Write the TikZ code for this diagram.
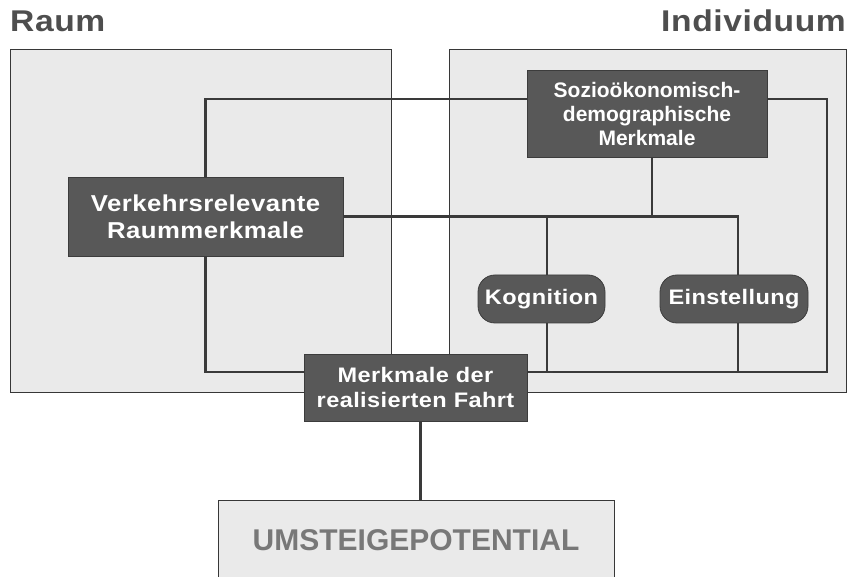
\documentclass[tikz,border=0pt]{standalone}
\usepackage{fontspec}
\setsansfont{Liberation Sans}
\newfontfamily\widesans{Liberation Sans}[FakeStretch=1.12,LetterSpace=2]
\usetikzlibrary{positioning}

\begin{document}
\begin{tikzpicture}[x=1pt,y=-1pt,
	panel/.style={draw=frame,line width=0.8pt,fill=panelgray},
	title/.style={text=titlegray,inner sep=0pt,font=\widesans\bfseries\fontsize{30}{33}\selectfont},
	dark box/.style={rectangle,draw=boxedge,line width=0.8pt,fill=boxgray,text=white,
		inner sep=0pt,align=center,font=\widesans\bfseries\fontsize{21}{25}\selectfont},
	soft box/.style={dark box,rounded corners=17pt},
	result box/.style={rectangle,draw=frame,line width=0.8pt,fill=panelgray,text=resultgray,
		inner sep=0pt,font=\sffamily\bfseries\fontsize{30}{34}\selectfont},
	link/.style={draw=linegray,line width=2.8pt}]
	
	\definecolor{frame}{RGB}{55,55,55}
	\definecolor{panelgray}{RGB}{234,234,234}
	\definecolor{boxgray}{RGB}{88,88,88}
	\definecolor{boxedge}{RGB}{60,60,60}
	\definecolor{linegray}{RGB}{58,58,58}
	\definecolor{titlegray}{RGB}{78,78,78}
	\definecolor{resultgray}{RGB}{120,120,120}
	
	\useasboundingbox (0,0) rectangle (852,577);
	\clip (0,0) rectangle (852,577);
	
	% the two areas
	\node[title,anchor=base west] (raum) at (10,32) {Raum};
	\node[title,anchor=base east] (indiv) at (846,32) {Individuum};
	\draw[panel] (10,49) rectangle (391,392);
	\draw[panel] (449,49) rectangle (846,392);
	
	\node[dark box,minimum width=275pt,minimum height=79pt,
		font=\widesans\bfseries\fontsize{23}{27}\selectfont] (verkehr) at (205.5,216.5)
		{Verkehrsrelevante\\Raummerkmale};
	\node[dark box,minimum width=240pt,minimum height=87pt,
		font=\sffamily\bfseries\fontsize{21}{24}\selectfont] (sozio) at (647,113.5)
		{Sozioökonomisch-\\demographische\\Merkmale};
	\node[soft box,minimum width=127pt,minimum height=48pt] (kogn) at (541.5,299) {Kognition};
	\node[soft box,minimum width=148pt,minimum height=48pt] (einst) at (734,299) {Einstellung};
	\node[dark box,minimum width=223pt,minimum height=67pt] (fahrt) at (415.5,387.5)
		{Merkmale der\\realisierten Fahrt};
	\node[result box,minimum width=396pt,minimum height=80pt] (umst) at (416,540) {UMSTEIGEPOTENTIAL};
	
	\coordinate (rc) at (827,372);
	
	% outer loop
	\draw[link] (verkehr.north) |- ([yshift=14.5pt]sozio.west);
	\draw[link] ([yshift=14.5pt]sozio.east) -| (rc) -- ([yshift=15.5pt]fahrt.east);
	\draw[link] (verkehr.south) |- ([yshift=15.5pt]fahrt.west);
	
	% middle bar
	\draw[link] (verkehr.east) -| ([xshift=4pt]einst.north);
	\draw[link] ([xshift=5pt]sozio.south) -- ([xshift=5pt]sozio.south |- verkehr.east);
	\draw[link] ([xshift=5.5pt]kogn.north) -- ([xshift=5.5pt]kogn.north |- verkehr.east);
	
	% down to the trip
	\draw[link] ([xshift=5.5pt]kogn.south) -- ([xshift=5.5pt]kogn.south |- rc);
	\draw[link] ([xshift=4pt]einst.south) -- ([xshift=4pt]einst.south |- rc);
	\draw[link] ([xshift=5pt]fahrt.south) -- ([xshift=5pt]fahrt.south |- umst.north);
\end{tikzpicture}
\end{document}
